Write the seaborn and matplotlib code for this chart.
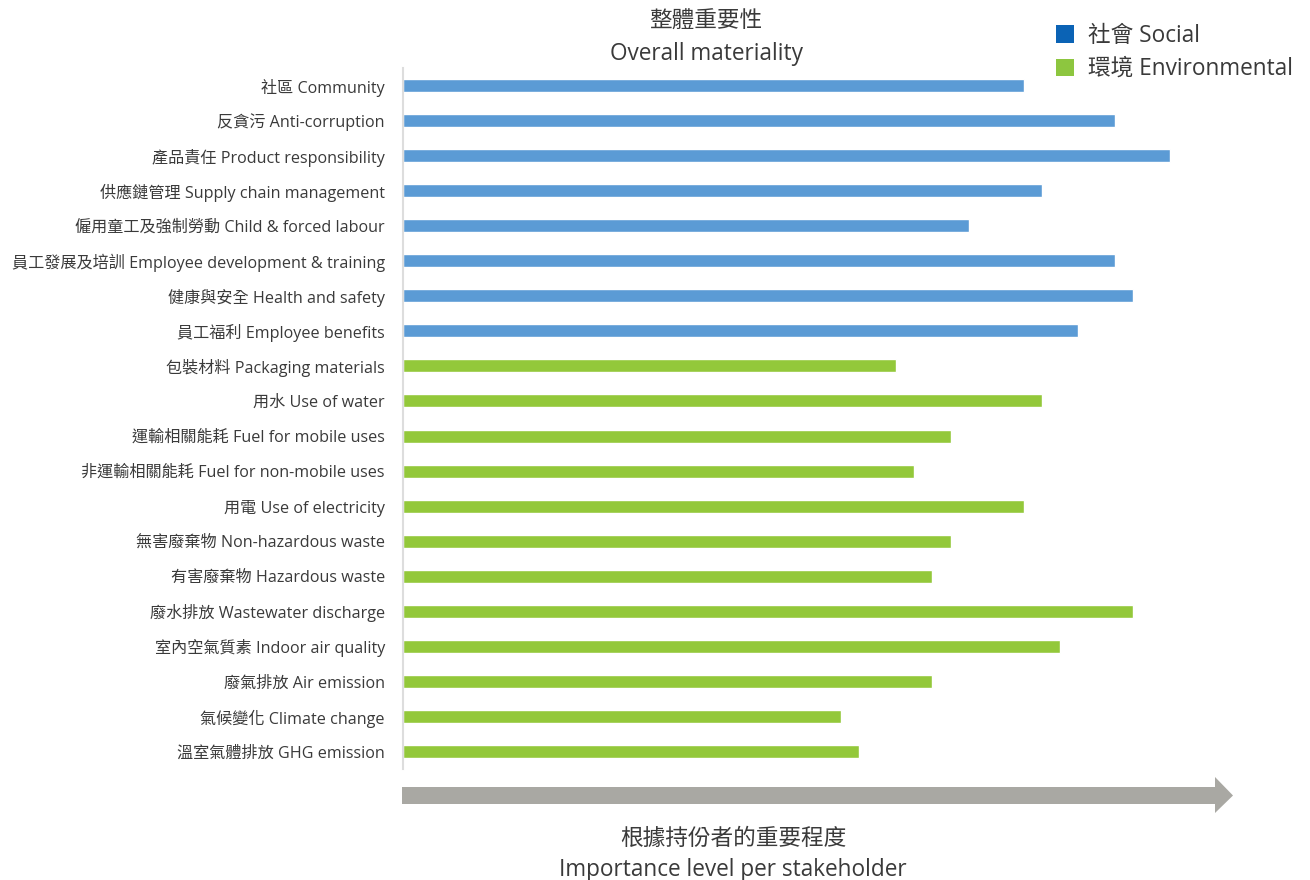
import matplotlib
matplotlib.use("Agg")
import matplotlib.pyplot as plt
import seaborn as sns
import pandas as pd
from matplotlib.patches import Patch, Polygon

categories = [
    "社區 Community",
    "反貪污 Anti-corruption",
    "產品責任 Product responsibility",
    "供應鏈管理 Supply chain management",
    "僱用童工及強制勞動 Child & forced labour",
    "員工發展及培訓 Employee development & training",
    "健康與安全 Health and safety",
    "員工福利 Employee benefits",
    "包裝材料 Packaging materials",
    "用水 Use of water",
    "運輸相關能耗 Fuel for mobile uses",
    "非運輸相關能耗 Fuel for non-mobile uses",
    "用電 Use of electricity",
    "無害廢棄物 Non-hazardous waste",
    "有害廢棄物 Hazardous waste",
    "廢水排放 Wastewater discharge",
    "室內空氣質素 Indoor air quality",
    "廢氣排放 Air emission",
    "氣候變化 Climate change",
    "溫室氣體排放 GHG emission",
]
values = [34, 39, 42, 35, 31, 39, 40, 37, 27, 35, 30, 28, 34, 30, 29, 40, 36, 29, 24, 25]
groups = ["Social"] * 8 + ["Environmental"] * 12
legend_labels = ["社會 Social", "環境 Environmental"]

bar_colors = {"Social": "#5b9bd5", "Environmental": "#93c83a"}
legend_colors = ["#0b63b5", "#8dc63f"]
text_color = "#3a3a3a"

sns.set_theme(style="white")
plt.rcParams["font.family"] = ["Open Sans", "Noto Sans CJK TC", "DejaVu Sans"]

df = pd.DataFrame({"cat": categories, "val": values, "grp": groups})

fig = plt.figure(figsize=(13.1, 8.8), dpi=100)
ax = fig.add_axes([403 / 1310, 1 - 769 / 880, 876 / 1310, (769 - 68) / 880])
sns.barplot(data=df, y="cat", x="val", hue="grp", palette=bar_colors,
            orient="h", dodge=False, width=0.37, ax=ax, legend=False,
            saturation=1)
ax.set_xlim(0, 48)
ax.set_ylim(19.5, -0.5)
ax.set_xlabel("")
ax.set_ylabel("")
ax.set_xticks([])
for s in ["top", "right", "bottom"]:
    ax.spines[s].set_visible(False)
ax.spines["left"].set_color("#dddddd")
ax.spines["left"].set_linewidth(1.5)
ax.tick_params(axis="y", length=0, pad=13, labelsize=11.6, labelcolor=text_color)

# overlay axes in pixel coordinates for decorations
ov = fig.add_axes([0, 0, 1, 1], zorder=-1)
ov.set_xlim(0, 1310)
ov.set_ylim(880, 0)
ov.axis("off")
arrow = Polygon([(402, 787), (1215, 787), (1215, 777), (1233, 795.5),
                 (1215, 813), (1215, 804), (402, 804)],
                closed=True, facecolor="#a9a8a3", edgecolor="none")
ov.add_patch(arrow)

fs = 16.3
fig.text(706 / 1310, 1 - 22 / 880, "整體重要性", ha="center", va="center",
         fontsize=fs, color=text_color)
fig.text(706 / 1310, 1 - 54 / 880, "Overall materiality", ha="center", va="center",
         fontsize=fs, color=text_color)
fig.text(733 / 1310, 1 - 839 / 880, "根據持份者的重要程度", ha="center", va="center",
         fontsize=fs, color=text_color)
fig.text(733 / 1310, 1 - 870 / 880, "Importance level per stakeholder", ha="center",
         va="center", fontsize=fs, color=text_color)

handles = [Patch(facecolor=c, edgecolor="none") for c in legend_colors]
leg = fig.legend(handles, legend_labels, loc="upper left",
                 bbox_to_anchor=(1056 / 1310, 1 - 24 / 880), frameon=False,
                 fontsize=fs, handlelength=0.8, handleheight=0.8,
                 handletextpad=0.6, labelspacing=0.4, borderaxespad=0,
                 borderpad=0)
for t in leg.get_texts():
    t.set_color(text_color)

fig.savefig("out.png", dpi=100)
